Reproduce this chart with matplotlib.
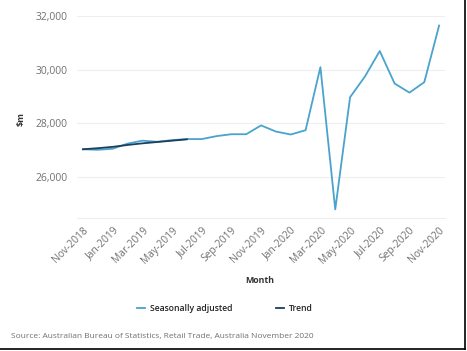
import matplotlib.pyplot as plt
from matplotlib.lines import Line2D
from matplotlib.ticker import FuncFormatter

plt.rcParams['font.family'] = ['Open Sans', 'DejaVu Sans']

months = ['Nov-2018', 'Dec-2018', 'Jan-2019', 'Feb-2019', 'Mar-2019', 'Apr-2019',
          'May-2019', 'Jun-2019', 'Jul-2019', 'Aug-2019', 'Sep-2019', 'Oct-2019',
          'Nov-2019', 'Dec-2019', 'Jan-2020', 'Feb-2020', 'Mar-2020', 'Apr-2020',
          'May-2020', 'Jun-2020', 'Jul-2020', 'Aug-2020', 'Sep-2020', 'Oct-2020',
          'Nov-2020']
seas_adj = [27040, 27020, 27060, 27250, 27360, 27320, 27380, 27420, 27420, 27530,
            27600, 27600, 27930, 27700, 27590, 27750, 30100, 24800, 28980, 29750,
            30700, 29490, 29150, 29540, 31650]
trend = [27040, 27080, 27130, 27200, 27260, 27310, 27360, 27410]

sa_col = '#4aa3cc'
tr_col = '#1b3f5c'
grey = '#707070'

fig = plt.figure(figsize=(4.67, 3.51), dpi=100)
ax = fig.add_axes([0.165, 0.379, 0.788, 0.575])

x = list(range(len(months)))
ax.plot(x, seas_adj, color=sa_col, lw=1.3)
ax.plot(range(len(trend)), trend, color=tr_col, lw=1.3)

ax.set_xlim(-0.4, len(months) - 0.6)
ax.set_ylim(24480, 32000)
ax.set_yticks([26000, 28000, 30000, 32000])
ax.yaxis.set_major_formatter(FuncFormatter(lambda v, p: f'{int(v):,}'))
ax.set_xticks(x[::2])
ax.set_xticklabels(months[::2], rotation=45, ha='right', rotation_mode='anchor')
ax.tick_params(axis='both', length=0, labelsize=7.4, colors=grey, pad=7)
ax.tick_params(axis='x', pad=5)

ax.grid(axis='y', color='#eeeeee', lw=0.8)
ax.set_axisbelow(True)
for s in ['top', 'right', 'left']:
    ax.spines[s].set_visible(False)
ax.spines['bottom'].set_color('#eeeeee')

fig.text(0.045, 0.66, '$m', fontsize=6.5, fontweight='bold', color='#333333',
         rotation=90, ha='center', va='center')
fig.text(0.557, 0.2, 'Month', fontsize=6.3, fontweight='bold', color='#333333',
         ha='center', va='center')

handles = [Line2D([], [], color=sa_col, lw=1.3), Line2D([], [], color=tr_col, lw=1.3)]
leg = fig.legend(handles, ['Seasonally adjusted', 'Trend'], loc='center',
                 bbox_to_anchor=(0.482, 0.12), ncol=2, frameon=False,
                 prop={'size': 6.2, 'weight': 'semibold'},
                 handlelength=0.9, handletextpad=0.6, columnspacing=5.0)
for t in leg.get_texts():
    t.set_color('#222222')

fig.text(0.024, 0.04, 'Source: Australian Bureau of Statistics, Retail Trade, Australia November 2020',
         fontsize=6.0, color=grey, ha='left', va='center')

# frame edges on right and bottom
fig.add_artist(Line2D([0.996, 0.996], [0.005, 1], color='black', lw=1.2))
fig.add_artist(Line2D([0, 0.996], [0.005, 0.005], color='black', lw=1.2))

fig.savefig('out.png', dpi=100)
